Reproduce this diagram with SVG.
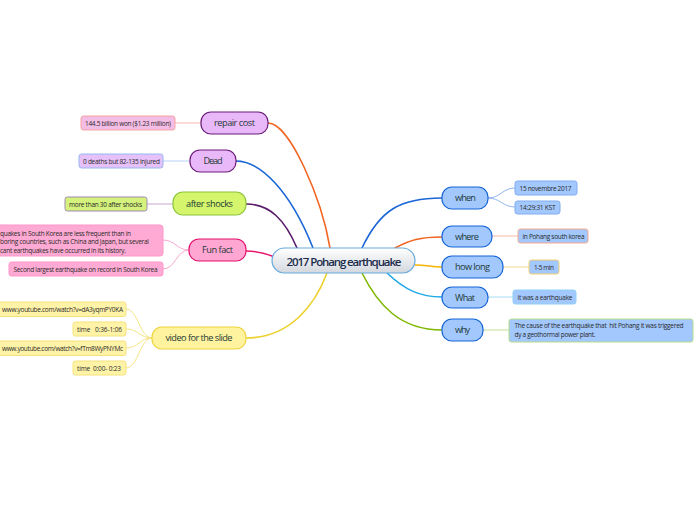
<svg xmlns="http://www.w3.org/2000/svg" width="696" height="520" viewBox="0 0 696 520">
<defs>
<linearGradient id="cg" x1="0" y1="0" x2="0" y2="1">
<stop offset="0" stop-color="#ffffff"/>
<stop offset="1" stop-color="#d3d8de"/>
</linearGradient>
<style>
.main{fill:none;stroke-width:1.6;stroke-linecap:round}
.sub{fill:none;stroke-width:1;stroke-linecap:round}
.nt{font-family:"Open Sans","Noto Sans","DejaVu Sans",sans-serif;font-size:9.2px;fill:#1d3a36;text-anchor:middle}
.lt{font-family:"Open Sans","Noto Sans","DejaVu Sans",sans-serif;font-size:6.5px;fill:#2a2a2a}
.ct{font-family:"Open Sans","Noto Sans","DejaVu Sans",sans-serif;font-size:11.5px;font-weight:600;fill:#1b2b4b;text-anchor:middle}
.purple{fill:#e9b8f9;stroke:#6a1b7a;stroke-width:1.2}
.green{fill:#d4f56c;stroke:#8cc43c;stroke-width:1.2}
.pink{fill:#ffa6d2;stroke:#e5106d;stroke-width:1.2}
.yellow{fill:#fff3a0;stroke:#efd53a;stroke-width:1.2}
.blue{fill:#a3c8fd;stroke:#1565d8;stroke-width:1.2}
.leaf{stroke-width:1}
</style>
</defs>
<rect width="696" height="520" fill="#ffffff"/>
<g id="connectors">
<path class="main" stroke="#f26522" d="M330,248 C322,200 290,123 268,123"/>
<path class="main" stroke="#1a66d6" d="M313,248 C290,190 260,161 236,161"/>
<path class="main" stroke="#5a1a6a" d="M297,248 C285,220 270,204 246,204"/>
<path class="main" stroke="#e8196e" d="M272,256 C262,252 256,251 246,251"/>
<path class="main" stroke="#ecd02a" d="M327,273 C315,305 290,338 246,338"/>
<path class="main" stroke="#1a66d6" d="M362,248 C380,210 400,198 442,198"/>
<path class="main" stroke="#f26522" d="M395,248 C410,240 420,237 442,237"/>
<path class="main" stroke="#f5b400" d="M415,265 C428,265 430,267 442,267"/>
<path class="main" stroke="#1fa8e8" d="M387,273 C405,290 420,297 442,297"/>
<path class="main" stroke="#7fb800" d="M362,273 C378,305 400,330 442,330"/>
<path class="sub" stroke="#8fb6f0" d="M488,198 C501,198 502,188 515,188"/>
<path class="sub" stroke="#8fb6f0" d="M488,198 C501,198 502,207 515,207"/>
<path class="sub" stroke="#f8b8a0" d="M492,236 L518,236"/>
<path class="sub" stroke="#f8d890" d="M503,267 L529,267"/>
<path class="sub" stroke="#a8dcf8" d="M488,297 L513,297"/>
<path class="sub" stroke="#c0e090" d="M483,330 L509,330"/>
<path class="sub" stroke="#f8b8b0" d="M175,123 L201,123"/>
<path class="sub" stroke="#b8d0f8" d="M163,161 L190,161"/>
<path class="sub" stroke="#c8a8d0" d="M147,204 L173,204"/>
<path class="sub" stroke="#f8a8d0" d="M189,250 C176,250 176,240 163,240"/>
<path class="sub" stroke="#f8a8d0" d="M189,250 C176,250 176,269 163,269"/>
<path class="sub" stroke="#f6e488" d="M152,338 C139,338 139,309 126,309"/>
<path class="sub" stroke="#f6e488" d="M152,338 C139,338 139,329 126,329"/>
<path class="sub" stroke="#f6e488" d="M152,338 C139,338 139,348 126,348"/>
<path class="sub" stroke="#f6e488" d="M152,338 C139,338 139,368 126,368"/>
</g>
<g id="root">
<rect x="272" y="248" width="143" height="25" rx="12.5" fill="url(#cg)" stroke="#66aadd" stroke-width="1.2"/>
<text class="ct" x="344" y="266" textLength="115">2017 Pohang earthquake</text>
</g>
<g id="when">
<rect class="blue" x="442" y="187" width="46" height="22" rx="10"/>
<text class="nt" x="465.5" y="201.2" textLength="21">when</text>
</g>
<g id="when-date">
<rect class="leaf" x="515" y="181" width="62" height="14" rx="2.5" fill="#a3c8fd" stroke="#80acf0"/>
<text class="lt" x="519.5" y="190.5" textLength="52">15 novembre 2017</text>
</g>
<g id="when-time">
<rect class="leaf" x="515" y="201" width="45" height="13" rx="2.5" fill="#a3c8fd" stroke="#80acf0"/>
<text class="lt" x="519.5" y="210" textLength="36">14:29:31 KST</text>
</g>
<g id="where">
<rect class="blue" x="442" y="226" width="50" height="21" rx="10"/>
<text class="nt" x="467" y="239.7" textLength="24" fill="#111">where</text>
</g>
<g id="where-leaf">
<rect class="leaf" x="518" y="229" width="70" height="14" rx="2.5" fill="#a3c8fd" stroke="#f8a890"/>
<text class="lt" x="522.5" y="238.5" textLength="62">in Pohang south korea</text>
</g>
<g id="howlong">
<rect class="blue" x="442" y="256" width="61" height="22" rx="10"/>
<text class="nt" x="472.5" y="270.2" textLength="35">how long</text>
</g>
<g id="howlong-leaf">
<rect class="leaf" x="529" y="260" width="30" height="14" rx="2.5" fill="#a3c8fd" stroke="#f4d070"/>
<text class="lt" x="534" y="269.5" textLength="20">1-5 min</text>
</g>
<g id="what">
<rect class="blue" x="442" y="287" width="46" height="21" rx="10"/>
<text class="nt" x="465" y="300.7" textLength="20">What</text>
</g>
<g id="what-leaf">
<rect class="leaf" x="513" y="290" width="63" height="14" rx="2.5" fill="#a3c8fd" stroke="#90d0f8"/>
<text class="lt" x="517.5" y="299.5" textLength="55">it was a earthquake</text>
</g>
<g id="why">
<rect class="blue" x="442" y="319" width="41" height="22" rx="10"/>
<text class="nt" x="462.5" y="333.2" textLength="15">why</text>
</g>
<g id="why-leaf">
<rect class="leaf" x="509" y="319" width="184" height="23" rx="2.5" fill="#a3c8fd" stroke="#b8dc88"/>
<text class="lt" x="514.5" y="327.8" textLength="169" xml:space="preserve">The cause of the earthquake that  hit Pohang it was triggered</text>
<text class="lt" x="514.5" y="336.6" textLength="81">dy a geothormal power plant.</text>
</g>
<g id="repair">
<rect class="purple" x="201" y="112" width="67" height="22" rx="10"/>
<text class="nt" x="234.5" y="126.2" textLength="41">repair cost</text>
</g>
<g id="repair-leaf">
<rect class="leaf" x="81" y="116" width="94" height="14" rx="2.5" fill="#f4bde6" stroke="#f6a5a0"/>
<text class="lt" x="85" y="125.5" textLength="86">144.5 billion won ($1.23 million)</text>
</g>
<g id="dead">
<rect class="purple" x="190" y="150" width="46" height="22" rx="10"/>
<text class="nt" x="213" y="164.2" textLength="19">Dead</text>
</g>
<g id="dead-leaf">
<rect class="leaf" x="79" y="154" width="84" height="14" rx="2.5" fill="#e6c0f8" stroke="#96b8f0"/>
<text class="lt" x="83" y="163.5" textLength="77">0 deaths but 82-135 injured</text>
</g>
<g id="aftershocks">
<rect class="green" x="173" y="192" width="73" height="23" rx="10"/>
<text class="nt" x="209.5" y="206.7" textLength="47">after shocks</text>
</g>
<g id="aftershocks-leaf">
<rect class="leaf" x="65" y="197" width="82" height="14" rx="2.5" fill="#d4f27c" stroke="#a08ab0"/>
<text class="lt" x="69" y="206.5" textLength="73">more than 30 after shocks</text>
</g>
<g id="funfact">
<rect class="pink" x="189" y="239" width="57" height="22" rx="10"/>
<text class="nt" x="217.5" y="253.2" textLength="31">Fun fact</text>
</g>
<g id="funfact-leaf1">
<rect class="leaf" x="-40" y="225" width="203" height="31" rx="3" fill="#ffaad4" stroke="#ff96c8"/>
<text class="lt" x="0" y="235.5" textLength="131">quakes in South Korea are less frequent than in</text>
<text class="lt" x="0" y="244" textLength="149">boring countries, such as China and Japan, but several</text>
<text class="lt" x="0" y="252.5" textLength="126">cant earthquakes have occurred in its history.</text>
</g>
<g id="funfact-leaf2">
<rect class="leaf" x="9" y="262" width="154" height="14" rx="2.5" fill="#ffaad4" stroke="#ff96c8"/>
<text class="lt" x="13.5" y="271.5" textLength="144">Second largest earthquake on record in South Korea</text>
</g>
<g id="video">
<rect class="yellow" x="152" y="327" width="94" height="22" rx="10"/>
<text class="nt" x="199" y="341.2" textLength="67">video for the slide</text>
</g>
<g id="video-leaf1">
<rect class="leaf" x="-20" y="302" width="146" height="14.5" rx="2.5" fill="#fff3a8" stroke="#f6e27a"/>
<text class="lt" x="2" y="311.8" textLength="121">www.youtube.com/watch?v=dA3yqmPY0KA</text>
</g>
<g id="video-leaf2">
<rect class="leaf" x="73" y="322" width="53" height="14" rx="2.5" fill="#fff3a8" stroke="#f6e27a"/>
<text class="lt" x="77" y="331.5" textLength="45" xml:space="preserve">time   0:36-1:06</text>
</g>
<g id="video-leaf3">
<rect class="leaf" x="-20" y="341" width="146" height="14.5" rx="2.5" fill="#fff3a8" stroke="#f6e27a"/>
<text class="lt" x="2" y="350.8" textLength="121">www.youtube.com/watch?v=fTm8WyPNYMc</text>
</g>
<g id="video-leaf4">
<rect class="leaf" x="73" y="361" width="53" height="14" rx="2.5" fill="#fff3a8" stroke="#f6e27a"/>
<text class="lt" x="77" y="370.5" textLength="44" xml:space="preserve">time  0:00- 0:23</text>
</g>
</svg>
